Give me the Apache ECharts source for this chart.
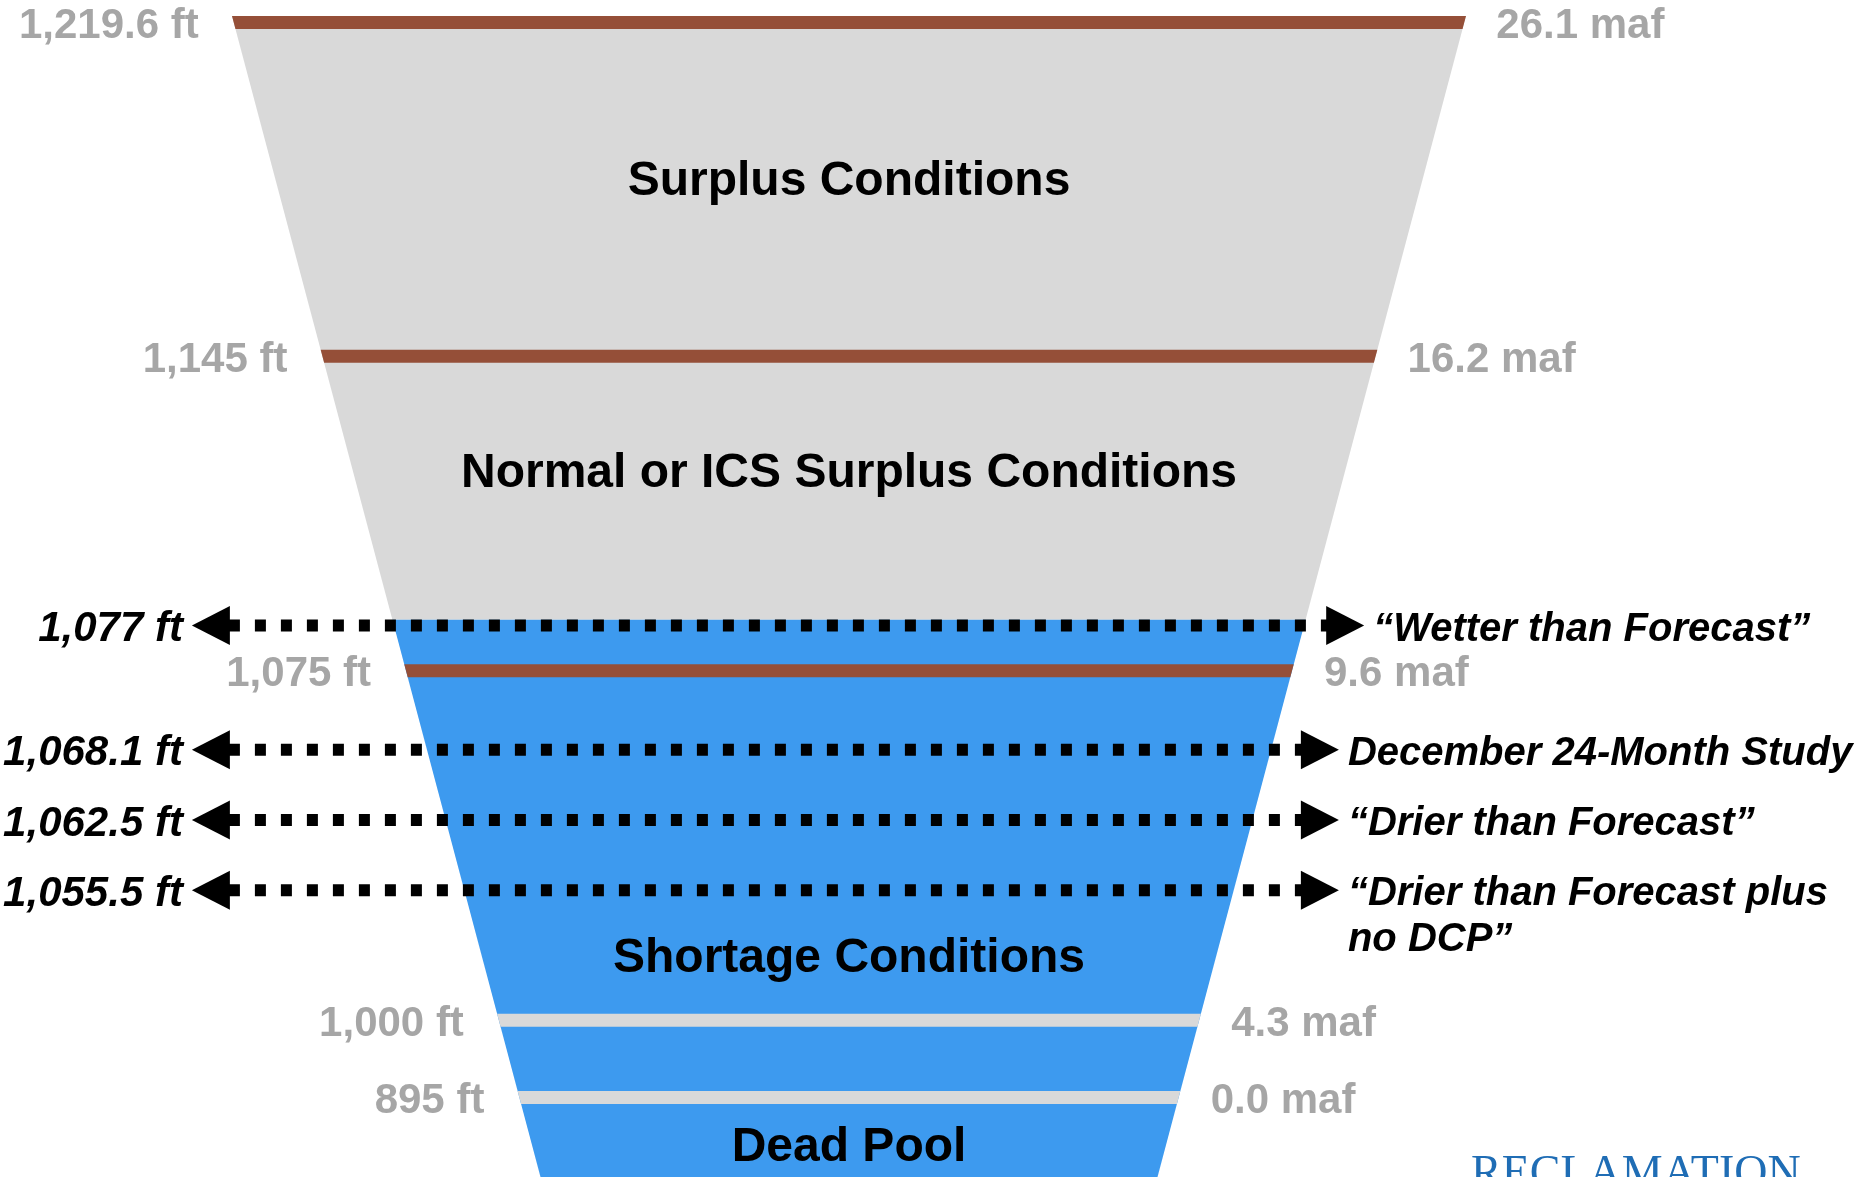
<!DOCTYPE html>
<html>
<head>
<meta charset="utf-8">
<title>Lake Mead operating conditions</title>
<script src="https://cdn.jsdelivr.net/npm/echarts@6/dist/echarts.min.js"></script>
<style>
  html, body { margin: 0; padding: 0; background: #fff; }
  #chart { width: 1857px; height: 1177px; }
</style>
</head>
<body>
<div id="chart"></div>
<script>
// positions are places on the schematic: 0 = rim of the funnel, 100 = bottom edge of the picture

// tier lines (elevation on the left, storage on the right)
const tierElevation = ['1,219.6 ft', '1,145 ft', '1,075 ft', '1,000 ft', '895 ft'];
const tierStorage = ['26.1 maf', '16.2 maf', '9.6 maf', '4.3 maf', '0.0 maf'];
const tierPos = [0.56, 29.3, 56.4, 86.5, 93.15];
const tierGroup = ['op', 'op', 'op', 'low', 'low'];

// conditions written inside the funnel
const zoneNames = ['Surplus Conditions', 'Normal or ICS Surplus Conditions', 'Shortage Conditions', 'Dead Pool'];
const zonePos = [13.95, 39.1, 80.9, 97.1];

// projected end of year elevations
const projElevation = ['1,077 ft', '1,068.1 ft', '1,062.5 ft', '1,055.5 ft'];
const projName = ['\u201cWetter than Forecast\u201d', 'December 24-Month Study', '\u201cDrier than Forecast\u201d', '\u201cDrier than Forecast plus\nno DCP\u201d'];
const projPos = [52.5, 63.2, 69.25, 75.3];

// water surface (top of the blue)
const waterSurfacePos = 52.0;

// ---- layout / style ----
const TOP_HALF = 1, BOTTOM_HALF = 0.5;   // funnel half width at rim and at bottom edge
const TIER_THICK = 13;
const ARROW_LEFT = -1.065, ARROW_RIGHT = [0.835, 0.794];
const ARROW_LEN = 38, ARROW_H = 39;
const TEXT_DY = 4;   // canvas 'middle' sits a bit above the cap centre
const GRAY_TXT = '#a6a6a6';
const SANS = '"Liberation Sans", Arial, Helvetica, sans-serif';
const tierColors = { op: '#954f38', low: '#d9d9d9' };

function halfWidth(v) {
  return TOP_HALF - (TOP_HALF - BOTTOM_HALF) * v / 100;
}
function band(api, v0, v1) {
  return [
    api.coord([-halfWidth(v0), v0]),
    api.coord([halfWidth(v0), v0]),
    api.coord([halfWidth(v1), v1]),
    api.coord([-halfWidth(v1), v1])
  ];
}
function txt(text, x, y, font, fill, align, vAlign, extra) {
  return {
    type: 'text',
    style: Object.assign({
      text: text, x: x, y: y + TEXT_DY, font: font, fill: fill,
      align: align, textAlign: align,
      verticalAlign: vAlign, textVerticalAlign: vAlign
    }, extra || {})
  };
}

const chart = echarts.init(document.getElementById('chart'));

chart.setOption({
  animation: false,
  grid: { left: 232, right: 391, top: 16, bottom: 0 },
  xAxis: { type: 'value', min: -1, max: 1, show: false },
  yAxis: { type: 'value', min: 0, max: 100, inverse: true, show: false },
  series: [
    {
      // funnel fill: dry part and water
      type: 'custom',
      silent: true,
      encode: { x: 0, y: 1 },
      data: [[0, 0, waterSurfacePos], [0, waterSurfacePos, 100]],
      renderItem(params, api) {
        return {
          type: 'polygon',
          shape: { points: band(api, api.value(1), api.value(2)) },
          style: { fill: params.dataIndex === 0 ? '#d9d9d9' : '#3d9aef' }
        };
      }
    },
    {
      // tier lines with their labels
      type: 'custom',
      silent: true,
      encode: { x: 0, y: 1 },
      data: tierPos.map(p => [0, p]),
      renderItem(params, api) {
        const i = params.dataIndex;
        const v = api.value(1);
        const half = TIER_THICK / 2 / api.size([0, 1])[1];
        const l = api.coord([-halfWidth(v), v]);
        const r = api.coord([halfWidth(v), v]);
        const font = 'bold 42px ' + SANS;
        return {
          type: 'group',
          children: [
            { type: 'polygon', shape: { points: band(api, v - half, v + half) },
              style: { fill: tierColors[tierGroup[i]] } },
            txt(tierElevation[i], l[0] - 35, l[1], font, GRAY_TXT, 'right', 'middle'),
            txt(tierStorage[i], r[0] + 32, r[1], font, GRAY_TXT, 'left', 'middle')
          ]
        };
      }
    },
    {
      // condition names
      type: 'custom',
      silent: true,
      encode: { x: 0, y: 1 },
      data: zonePos.map(p => [0, p]),
      renderItem(params, api) {
        const c = api.coord([0, api.value(1)]);
        return txt(zoneNames[params.dataIndex], c[0], c[1], 'bold 48px ' + SANS, '#000', 'center', 'middle');
      }
    },
    {
      // projection arrows
      type: 'custom',
      silent: true,
      encode: { x: 0, y: 1 },
      data: projPos.map(p => [0, p]),
      renderItem(params, api) {
        const i = params.dataIndex;
        const v = api.value(1);
        const a = api.coord([ARROW_LEFT, v]);
        const b = api.coord([ARROW_RIGHT[i === 0 ? 0 : 1], v]);
        const y = a[1], h = ARROW_H / 2;
        return {
          type: 'group',
          children: [
            { type: 'line',
              shape: { x1: a[0] + ARROW_LEN - 1, y1: y, x2: b[0] - ARROW_LEN + 1, y2: y },
              style: { stroke: '#000', lineWidth: 12, lineDash: [11, 15], lineCap: 'butt' } },
            { type: 'polygon', shape: { points: [[a[0], y], [a[0] + ARROW_LEN, y - h], [a[0] + ARROW_LEN, y + h]] },
              style: { fill: '#000' } },
            { type: 'polygon', shape: { points: [[b[0], y], [b[0] - ARROW_LEN, y - h], [b[0] - ARROW_LEN, y + h]] },
              style: { fill: '#000' } },
            txt(projElevation[i], a[0] - 9, y, 'italic bold 42px ' + SANS, '#000', 'right', 'middle'),
            txt(projName[i], b[0] + 9, y - 23, 'italic bold 40px ' + SANS, '#000', 'left', 'top', { lineHeight: 46 })
          ]
        };
      }
    }
  ],
  graphic: [{
    type: 'text',
    left: 1471,
    top: 1152,
    silent: true,
    style: { text: 'RECLAMATION', font: '46px "Liberation Serif", "Times New Roman", serif', fill: '#1f6db5' }
  }]
});
</script>
</body>
</html>
